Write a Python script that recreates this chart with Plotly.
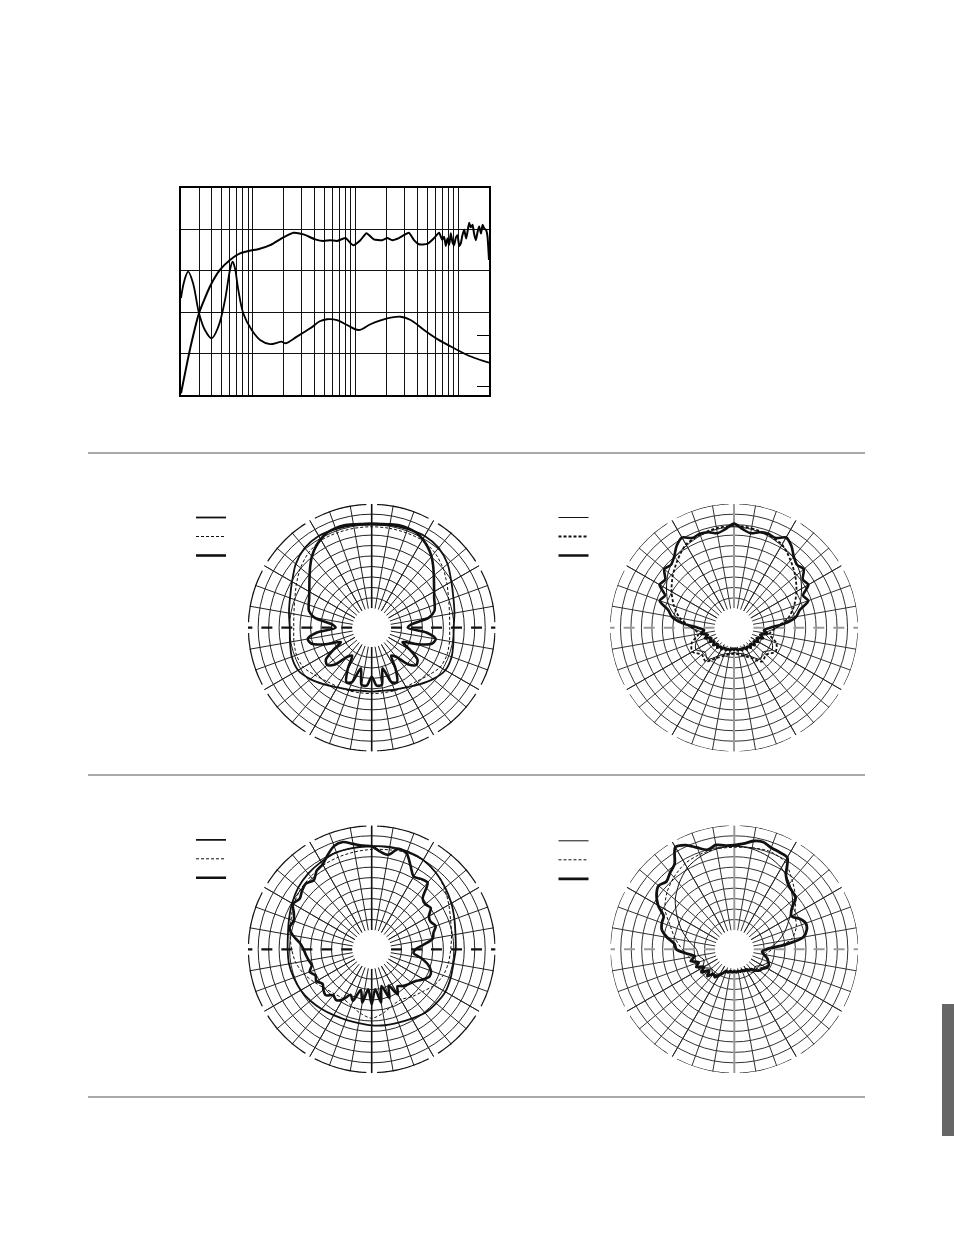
import numpy as np
import plotly.graph_objects as go

# ---------------- frequency response (SPL) and impedance ----------------
RESP_FREQ_HZ = [20, 24.4, 30, 38.3, 47.9, 60, 75.2, 101, 113, 147.5, 199, 250, 312, 406, 490, 570,
                662, 798, 948, 1119, 1282, 1510, 1824, 2042, 2284, 2652, 2967, 3319, 3717, 4160,
                5020, 5830, 6530, 7000, 7300, 7600, 7870, 8200, 8490, 8800, 9150, 9500, 9870,
                10250, 10620, 11000, 11460, 12000, 12820, 13300, 13840, 14300, 14900, 15500,
                16040, 16700, 17330, 18000, 18680, 19300, 20000]
RESP_SPL_DB = [60.4, 70.9, 79.8, 86.2, 90.2, 92.6, 94.2, 95.0, 95.2, 96.2, 98.1, 99.2, 98.8, 97.6,
               97.2, 97.4, 97.2, 97.9, 96.2, 97.4, 99.1, 97.6, 97.4, 97.9, 97.4, 97.9, 98.6, 99.2,
               97.4, 96.4, 96.5, 97.9, 99.2, 97.5, 98.2, 96.0, 97.8, 96.3, 99.1, 97.0, 96.2, 98.0,
               98.6, 96.0, 96.6, 98.5, 99.9, 97.8, 101.6, 100.5, 101.1, 99.0, 97.4, 99.5, 100.7,
               99.0, 101.1, 100.2, 99.9, 98.5, 92.6]
IMP_FREQ_HZ = [20, 21.5, 23.5, 26.2, 30, 34.2, 39.8, 46.2, 53.6, 60, 63.7, 67.1, 72.3, 80.9, 97.7,
               117.8, 147.5, 171.6, 190, 207, 269, 363, 450, 528, 662, 829, 1077, 1402, 2042,
               2754, 3450, 4660, 6290, 9150, 13300, 20000]
IMP_OHM = [23.4, 27.5, 29.8, 27.0, 19.7, 15.7, 13.7, 16.5, 22.9, 30.2, 32.2, 30.6, 25.4, 19.7,
           15.7, 13.3, 12.3, 12.6, 12.9, 12.5, 14.1, 16.1, 17.8, 18.3, 18.1, 16.9, 15.7, 17.1,
           18.5, 18.9, 18.1, 15.7, 13.5, 11.3, 9.3, 7.8]
FREQ_GRID_HZ = [20, 30, 40, 50, 60, 70, 80, 90, 100, 200, 300, 400, 500, 600, 700, 800, 900,
                1000, 2000, 3000, 4000, 5000, 6000, 7000, 8000, 9000, 10000, 20000]
SPL_GRID_DB = [70, 80, 90, 100]
IMP_TICKS_OHM = [2.0, 14.3]

# ---------------- polar patterns (dB, 0 deg = on axis, clockwise) ----------------
THETA_10 = list(range(0, 361, 10))
THETA_5 = list(range(0, 361, 5))
RING_DB = [-45, -40, -35, -30, -25, -20, -15, -10, -5]

P1_A = [-10.0, -9.5, -9.1, -8.6, -9.5, -11.9, -15.3, -17.7, -19.1, -20.1, -19.6, -18.6, -18.6,
        -21.0, -23.9, -26.3, -27.7, -28.7, -28.7, -28.7, -27.7, -26.3, -23.9, -21.0, -18.6,
        -18.6, -19.6, -20.1, -19.1, -17.7, -15.3, -11.9, -9.5, -8.6, -9.1, -9.5, -10.0]
P1_B = [-11.0, -11.0, -11.0, -11.0, -12.4, -14.8, -17.7, -20.1, -21.5, -22.0, -21.5, -21.0,
        -21.5, -23.9, -25.8, -26.7, -27.2, -27.7, -27.7, -27.7, -27.2, -26.7, -25.8, -23.9,
        -21.5, -21.0, -21.5, -22.0, -21.5, -20.1, -17.7, -14.8, -12.4, -11.0, -11.0, -11.0, -11.0]
P1_C = [-9.5, -9.5, -9.1, -8.6, -8.6, -9.1, -10.5, -12.4, -14.8, -17.7, -20.5, -22.9, -24.8,
        -26.3, -27.2, -28.2, -31.5, -40.1, -42.0, -33.0, -28.2, -29.6, -36.3, -43.0, -38.2,
        -32.5, -31.5, -34.4, -41.1, -43.0, -36.3, -30.6, -31.5, -39.2, -31.5, -31.5, -35.8,
        -31.5, -31.5, -39.2, -31.5, -30.6, -36.3, -43.0, -41.1, -34.4, -31.5, -32.5, -38.2,
        -43.0, -36.3, -29.6, -28.2, -33.0, -42.0, -40.1, -31.5, -28.2, -27.2, -26.3, -24.8,
        -22.9, -20.5, -17.7, -14.8, -12.4, -10.5, -9.1, -8.6, -8.6, -9.1, -9.5, -9.5]

P2_A = [-11.0, -11.5, -12.4, -13.9, -15.3, -18.2, -22.0, -25.8, -31.5, -38.7, -43.9, -40.1,
        -38.2, -41.1, -39.6, -43.5, -45.9, -46.8, -47.3, -46.8, -45.9, -43.5, -39.6, -41.1,
        -38.2, -40.1, -43.9, -38.7, -31.5, -25.8, -22.0, -18.2, -15.3, -13.9, -12.4, -11.5, -11.0]
P2_B = [-10.5, -11.0, -12.0, -13.4, -17.2, -21.0, -24.8, -28.7, -33.0, -39.2, -42.0, -37.7,
        -36.3, -39.2, -38.2, -42.5, -44.9, -46.3, -46.8, -46.3, -44.9, -42.5, -38.2, -39.2,
        -36.3, -37.7, -42.0, -39.2, -33.0, -28.7, -24.8, -21.0, -17.2, -13.4, -12.0, -11.0, -10.5]
P2_C = [-9.5, -12.0, -13.4, -12.0, -11.5, -12.0, -9.5, -11.5, -14.8, -16.7, -15.8, -19.1,
        -18.2, -22.9, -21.5, -26.7, -29.1, -34.4, -42.0, -44.9, -43.0, -46.3, -44.4, -47.3,
        -45.9, -47.8, -46.3, -48.2, -46.8, -48.2, -47.3, -48.7, -47.8, -48.7, -48.2, -49.2,
        -48.7, -49.2, -48.2, -48.7, -47.8, -48.7, -47.3, -48.2, -46.8, -48.2, -46.3, -47.8,
        -45.9, -47.3, -44.4, -46.3, -43.0, -44.9, -42.0, -34.4, -29.1, -26.7, -21.5, -22.9,
        -18.2, -19.1, -15.8, -16.7, -14.8, -11.5, -9.5, -12.0, -11.5, -12.0, -13.4, -12.0, -9.5]

P3_A = [-10.0, -9.5, -9.5, -10.0, -11.5, -13.4, -15.3, -17.2, -18.6, -19.1, -19.6, -19.1,
        -18.6, -19.1, -19.6, -21.0, -22.0, -22.4, -22.9, -23.4, -23.4, -22.9, -22.0, -21.0,
        -20.1, -19.6, -19.1, -19.1, -18.6, -17.2, -15.3, -13.4, -12.0, -11.0, -10.0, -10.0, -10.0]
P3_B = [-11.5, -11.0, -10.0, -10.0, -11.5, -13.9, -16.7, -19.1, -20.5, -21.5, -22.0, -22.9,
        -24.8, -27.7, -29.6, -31.5, -30.6, -28.2, -26.3, -28.2, -30.6, -32.0, -31.5, -30.1,
        -27.7, -24.8, -22.4, -21.0, -19.6, -18.2, -16.2, -14.8, -13.9, -12.9, -12.4, -12.0, -11.5]
P3_C = [-10.0, -12.4, -13.4, -9.5, -10.5, -15.3, -19.1, -18.2, -17.7, -24.8, -25.8, -24.8,
        -27.7, -28.2, -26.7, -28.7, -29.6, -34.4, -38.2, -39.2, -35.3, -31.5, -29.1, -28.7,
        -30.6, -33.0, -34.4, -35.3, -36.3, -37.7, -34.4, -40.1, -34.4, -41.1, -33.4, -40.1,
        -33.0, -40.1, -33.4, -39.2, -33.0, -35.3, -31.5, -29.6, -30.6, -28.2, -29.1, -30.6,
        -28.7, -29.6, -27.7, -29.6, -28.7, -27.7, -26.7, -24.8, -21.0, -18.6, -19.6, -18.2,
        -15.8, -17.2, -15.8, -14.8, -16.2, -13.4, -12.4, -9.5, -6.7, -6.2, -8.1, -9.5, -10.0]

P4_A = [-10.0, -10.5, -12.0, -14.3, -18.2, -22.9, -28.7, -33.4, -38.2, -43.0, -44.9, -42.0,
        -43.9, -46.3, -44.9, -47.3, -48.2, -48.7, -48.7, -48.7, -47.8, -45.9, -43.5, -44.9,
        -42.0, -43.9, -42.0, -41.1, -37.3, -32.5, -27.7, -22.4, -18.2, -14.3, -12.0, -10.5, -10.0]
P4_B = [-10.5, -10.0, -9.5, -11.0, -16.2, -21.0, -25.8, -27.7, -31.5, -41.1, -43.9, -41.1,
        -42.5, -44.9, -46.3, -47.3, -48.2, -48.7, -48.7, -48.2, -47.3, -44.9, -43.0, -41.1,
        -40.1, -39.2, -37.3, -34.4, -30.6, -26.7, -21.0, -17.2, -14.3, -12.0, -11.0, -10.5, -10.5]
P4_C = [-9.5, -8.6, -6.7, -6.2, -7.6, -8.1, -8.6, -16.2, -19.1, -20.1, -21.0, -25.8, -27.7,
        -24.8, -22.9, -23.4, -25.8, -35.3, -43.9, -45.9, -44.9, -43.0, -42.0, -41.1, -41.6,
        -43.0, -43.5, -44.9, -46.8, -47.3, -48.2, -47.8, -48.7, -48.2, -48.7, -48.2, -48.7,
        -48.2, -48.7, -47.8, -48.2, -46.8, -44.9, -43.0, -43.9, -41.1, -43.5, -40.1, -42.5,
        -39.2, -41.1, -37.7, -40.1, -36.3, -31.5, -30.6, -26.7, -23.4, -22.4, -22.0, -17.2,
        -13.9, -12.0, -13.4, -11.5, -9.5, -2.9, -4.3, -7.6, -10.0, -8.6, -9.5, -9.5]

# the page body margin is removed after plotting (see write_html below)
OFF = 0
W, H = 954, 1235
R_MIN, R_MAX = -50, 0


def px(x):
    return (x - OFF) / W


def py(y):
    return 1 - (y - OFF) / H


fig = go.Figure()

# ---------------- frequency response chart ----------------
fig.add_trace(go.Scatter(x=RESP_FREQ_HZ, y=RESP_SPL_DB, mode="lines", showlegend=False,
                         line=dict(color="black", width=2, shape="spline", smoothing=0.5),
                         xaxis="x", yaxis="y"))
fig.add_trace(go.Scatter(x=IMP_FREQ_HZ, y=IMP_OHM, mode="lines", showlegend=False,
                         line=dict(color="black", width=1.8, shape="spline", smoothing=1.0),
                         xaxis="x", yaxis="y2"))


# ---------------- polar charts ----------------
def ring_arcs(gap=5.0, n=40):
    th, rr = [], []
    for k in range(12):
        seg = np.linspace(30 * k + gap / 2, 30 * (k + 1) - gap / 2, n)
        th += list(seg) + [None]
        rr += [R_MAX] * n + [None]
    return th, rr


def add_polar_frame(sub, ring_w, axis_color, axis_w, dash_w):
    th, rr = ring_arcs()
    fig.add_trace(go.Scatterpolar(r=rr, theta=th, mode="lines", subplot=sub, showlegend=False,
                                  cliponaxis=False, hoverinfo="skip",
                                  line=dict(color="#111", width=ring_w)))
    sp_t, sp_r = [], []
    for a in (30, 60, 120, 150, 210, 240, 300, 330):
        sp_t += [a, a, None]
        sp_r += [R_MIN, R_MAX, None]
    fig.add_trace(go.Scatterpolar(r=sp_r, theta=sp_t, mode="lines", subplot=sub, showlegend=False,
                                  hoverinfo="skip", line=dict(color="#222", width=0.9)))
    fig.add_trace(go.Scatterpolar(r=[R_MIN, R_MAX, None, R_MIN, R_MAX],
                                  theta=[0, 0, None, 180, 180], mode="lines", subplot=sub,
                                  showlegend=False, cliponaxis=False, hoverinfo="skip",
                                  line=dict(color=axis_color, width=axis_w)))
    fig.add_trace(go.Scatterpolar(r=[R_MIN, R_MAX, None, R_MIN, R_MAX],
                                  theta=[90, 90, None, 270, 270], mode="lines", subplot=sub,
                                  showlegend=False, cliponaxis=False, hoverinfo="skip",
                                  line=dict(color=axis_color, width=dash_w, dash="11px,9px")))


def add_curves(sub, leg, curves):
    for theta, r, width, dash in curves:
        fig.add_trace(go.Scatterpolar(r=r, theta=theta, mode="lines", subplot=sub, name="",
                                      legend=leg, hoverinfo="skip",
                                      line=dict(color="#111", width=width, dash=dash,
                                                shape="spline", smoothing=0.8)))


add_polar_frame("polar", 2.6, "#111", 1.6, 2.2)
add_polar_frame("polar2", 1.2, "#9a9a9a", 2.0, 2.0)
add_polar_frame("polar3", 2.6, "#111", 1.6, 2.2)
add_polar_frame("polar4", 1.2, "#9a9a9a", 2.0, 2.0)

add_curves("polar", "legend", [(THETA_10, P1_A, 1.8, "solid"), (THETA_10, P1_B, 1.0, "3px,2px"),
                               (THETA_5, P1_C, 2.6, "solid")])
add_curves("polar2", "legend2", [(THETA_10, P2_A, 1.0, "solid"), (THETA_10, P2_B, 1.8, "3px,2px"),
                                 (THETA_5, P2_C, 2.6, "solid")])
add_curves("polar3", "legend3", [(THETA_10, P3_A, 1.8, "solid"), (THETA_10, P3_B, 1.0, "3px,2px"),
                                 (THETA_5, P3_C, 2.6, "solid")])
add_curves("polar4", "legend4", [(THETA_10, P4_A, 1.0, "solid"), (THETA_10, P4_B, 1.0, "3px,2px"),
                                 (THETA_5, P4_C, 2.8, "solid")])

SPOKES = [a for a in range(0, 360, 10) if a % 90 != 0]


def polar_layout(cx, cy, rad, grid):
    return dict(
        domain=dict(x=[px(cx - rad), px(cx + rad)], y=[py(cy + rad), py(cy - rad)]),
        hole=0.156, bgcolor="white",
        radialaxis=dict(range=[R_MIN, R_MAX], tickvals=RING_DB, showticklabels=False, ticks="",
                        showline=False, gridcolor=grid, gridwidth=0.7),
        angularaxis=dict(rotation=90, direction="clockwise", tickvals=SPOKES,
                         showticklabels=False, ticks="", showline=False, gridcolor=grid,
                         gridwidth=0.7),
    )


def legend_layout(xpage, ypage):
    return dict(x=px(xpage), y=py(ypage), xanchor="left", yanchor="top",
                bgcolor="rgba(0,0,0,0)", borderwidth=0, font=dict(size=10),
                tracegroupgap=0, itemwidth=30, itemclick=False, itemdoubleclick=False)


fig.update_layout(
    width=W, height=H, margin=dict(l=0, r=0, t=0, b=0),
    paper_bgcolor="white", plot_bgcolor="white",
    xaxis=dict(type="log", domain=[px(181), px(489)], range=[np.log10(20), np.log10(20000)],
               tickvals=FREQ_GRID_HZ, showticklabels=False, ticks="", showgrid=True,
               gridcolor="#111", gridwidth=0.9, showline=True, mirror=True, linecolor="black",
               linewidth=1.6, zeroline=False, anchor="y"),
    yaxis=dict(domain=[py(395), py(188)], range=[60, 110], tickvals=SPL_GRID_DB,
               showticklabels=False, ticks="", showgrid=True, gridcolor="#111", gridwidth=0.9,
               showline=True, mirror=True, linecolor="black", linewidth=1.6, zeroline=False,
               anchor="x"),
    yaxis2=dict(overlaying="y", side="right", anchor="x", range=[0, 50], tickvals=IMP_TICKS_OHM,
                ticks="inside", ticklen=12, tickwidth=1, tickcolor="black",
                showticklabels=False, showgrid=False, showline=False, zeroline=False),
    polar=polar_layout(371.7, 627.7, 124, "#222"),
    polar2=polar_layout(734.0, 627.7, 124, "#333"),
    polar3=polar_layout(371.7, 949.3, 124, "#222"),
    polar4=polar_layout(734.3, 949.3, 124, "#333"),
    legend=legend_layout(191, 503),
    legend2=legend_layout(553.5, 503),
    legend3=legend_layout(191, 825.3),
    legend4=legend_layout(553.5, 826.3),
    showlegend=True,
    shapes=[
        dict(type="line", xref="paper", yref="paper", x0=px(88), x1=px(865),
             y0=py(453), y1=py(453), line=dict(color="#555", width=1)),
        dict(type="line", xref="paper", yref="paper", x0=px(88), x1=px(865),
             y0=py(775), y1=py(775), line=dict(color="#555", width=1)),
        dict(type="line", xref="paper", yref="paper", x0=px(88), x1=px(865),
             y0=py(1097), y1=py(1097), line=dict(color="#555", width=1)),
        dict(type="rect", xref="paper", yref="paper", x0=px(942), x1=px(954),
             y0=py(1136), y1=py(1004), fillcolor="#666666", line=dict(width=0)),
    ],
)

fig.write_html("out.html", config={"displayModeBar": False},
               post_script="document.body.style.margin='0px';document.body.style.overflow='hidden';")
